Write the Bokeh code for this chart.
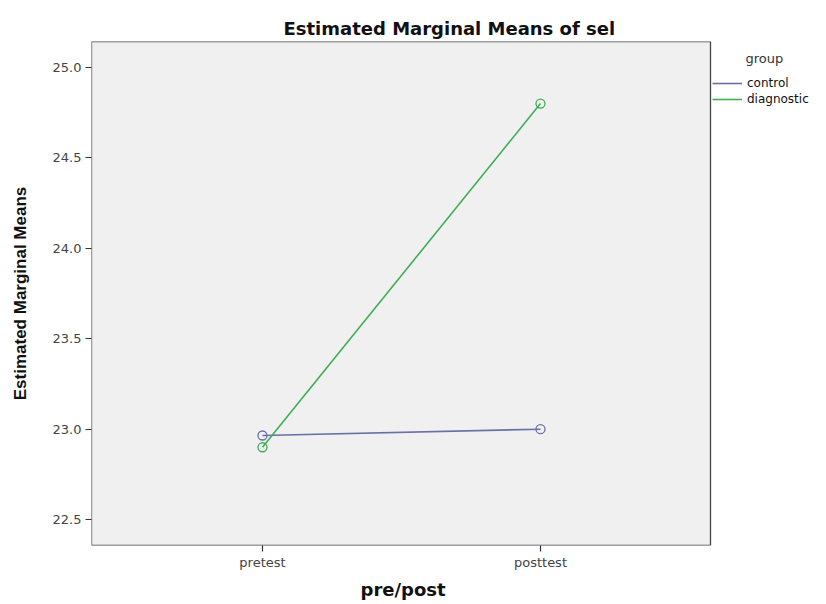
from bokeh.plotting import figure
from bokeh.models import (Range1d, FixedTicker, Legend, LegendItem, Label,
                          NumeralTickFormatter, BoxAnnotation, Title)
from bokeh.embed import file_html
from bokeh.resources import INLINE

categories = ["pretest", "posttest"]
groups = ["control", "diagnostic"]
control = [22.965, 23.0]
diagnostic = [22.90, 24.80]
y_ticks = [22.5, 23.0, 23.5, 24.0, 24.5, 25.0]

colors = {"control": "#6a70a6", "diagnostic": "#3fae55"}

x = list(range(len(categories)))

# frame spans the full right side so the legend (drawn in the frame) is not clipped;
# the visible grey plot box is a BoxAnnotation ending at the plot area's right edge
p = figure(width=826, height=604, output_backend="svg", toolbar_location=None,
           x_range=Range1d(-0.615, 2.0288), y_range=Range1d(22.357, 25.143),
           min_border_left=91, min_border_right=0, min_border_top=41,
           min_border_bottom=57)

p.background_fill_color = "white"
p.border_fill_color = "white"
p.outline_line_color = None
p.grid.visible = False

box = BoxAnnotation(right=619, right_units="screen", fill_color="#f0f0f0",
                    fill_alpha=1.0, line_color="#444444", line_alpha=1.0,
                    line_width=1.3, level="underlay", propagate_hover=False)
p.add_layout(box)

p.title.text = "Estimated Marginal Means of sel"
p.title.align = "left"
p.title.offset = 192
p.title.text_font = "DejaVu Sans"
p.title.text_font_style = "bold"
p.title.text_font_size = "18px"
p.title.text_color = "#111111"
p.title.standoff = 5

p.xaxis.ticker = FixedTicker(ticks=x)
p.xaxis.major_label_overrides = {i: c for i, c in enumerate(categories)}
p.yaxis.ticker = FixedTicker(ticks=y_ticks)
p.yaxis.formatter = NumeralTickFormatter(format="0.0")

for ax in (p.xaxis[0], p.yaxis[0]):
    ax.axis_line_color = None
    ax.major_tick_in = 0
    ax.major_tick_out = 6
    ax.major_tick_line_color = "#333333"
    ax.major_tick_line_width = 1.2
    ax.minor_tick_line_color = None
    ax.major_label_text_font = "DejaVu Sans"
    ax.major_label_text_font_size = "13px"
    ax.major_label_text_color = "#444444"
    ax.axis_label_text_font_style = "bold"
    ax.axis_label_text_color = "#111111"

p.xaxis.major_label_standoff = 3

# x-axis title, centred under the grey plot box
xlab = Title(text="pre/post", align="left", offset=269, standoff=9,
             text_font="DejaVu Sans", text_font_style="bold",
             text_font_size="18px", text_color="#111111")
p.add_layout(xlab, "below")

p.yaxis.axis_label = "Estimated Marginal Means"
p.yaxis.axis_label_text_font = "Liberation Sans"
p.yaxis.axis_label_text_font_size = "17px"
p.yaxis.axis_label_standoff = 20
p.yaxis.major_label_standoff = 4

items = []
for name, vals in (("control", control), ("diagnostic", diagnostic)):
    r = p.line(x, vals, line_color=colors[name], line_width=1.6)
    p.scatter(x, vals, marker="circle", size=9, fill_color=None,
              line_color=colors[name], line_width=1.3)
    items.append(LegendItem(label=name, renderers=[r]))

legend = Legend(items=items, location=(621, 438), padding=0, margin=0,
                spacing=0, glyph_width=30, glyph_height=16, label_height=16,
                label_standoff=5, label_text_font="DejaVu Sans",
                label_text_font_size="12px", label_text_color="#111111",
                background_fill_alpha=0, border_line_color=None)
p.add_layout(legend, "center")

title_lbl = Label(x=654, y=487, x_units="screen", y_units="screen",
                  text="group", text_font="DejaVu Sans", text_font_size="13px",
                  text_color="#333333", text_baseline="middle")
p.add_layout(title_lbl)

open("out.html", "w").write(file_html(p, INLINE))
